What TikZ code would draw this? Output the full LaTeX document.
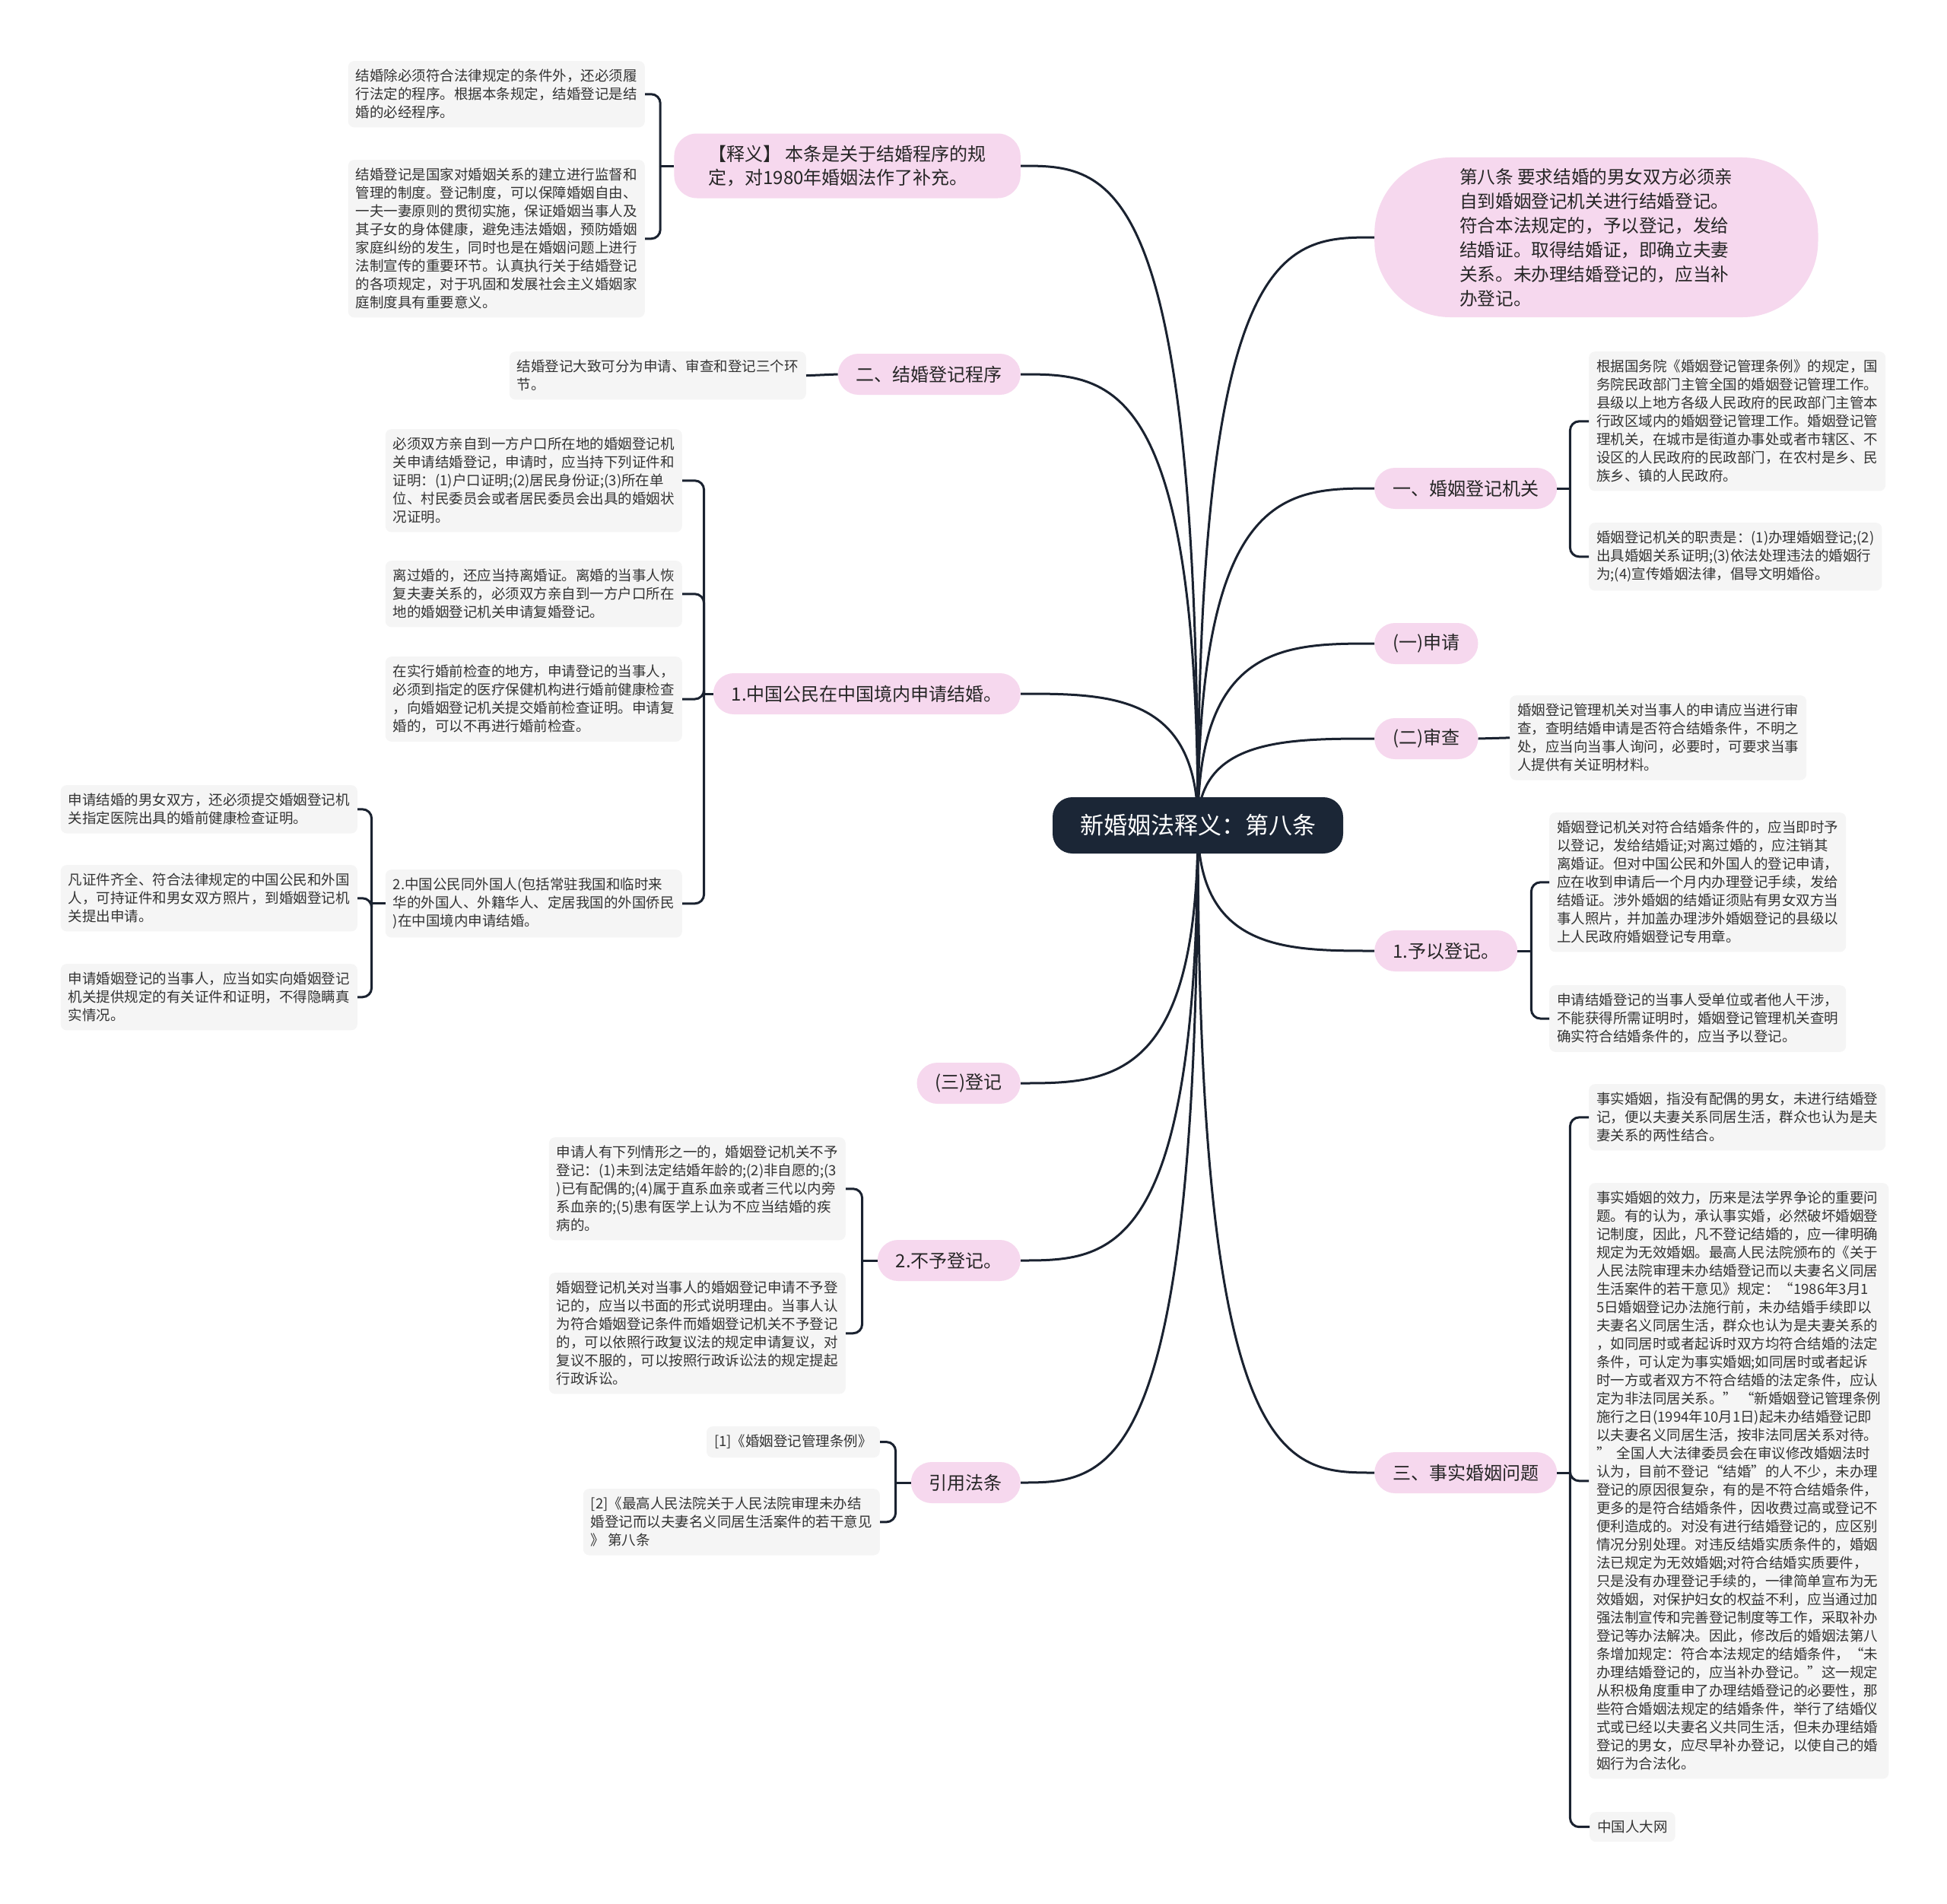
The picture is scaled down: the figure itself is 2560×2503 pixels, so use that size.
\documentclass[tikz,border=0pt]{standalone}
\usepackage{fontspec}
\newfontfamily\cjk{Noto Sans CJK SC}
\usetikzlibrary{calc}
\definecolor{pinkfill}{HTML}{F6D8EE}
\definecolor{leaffill}{HTML}{F5F5F5}
\definecolor{linec}{HTML}{1A2230}
\definecolor{navy}{HTML}{1B2636}
\definecolor{leaftext}{HTML}{333333}
\tikzset{
 leaf/.style={fill=leaffill, rounded corners=8pt, inner xsep=10pt, inner ysep=11pt, align=left, text=leaftext, font=\cjk\fontsize{18.5}{24}\selectfont},
 branch/.style={fill=pinkfill, rounded corners=27pt, inner xsep=24pt, inner ysep=0pt, minimum height=54pt, text=black!85, font=\cjk\fontsize{24}{31}\selectfont, align=left},
 conn/.style={draw=linec, line width=3pt},
 bracket/.style={conn, rounded corners=12pt},
}
\newcommand\rootcurve[1]{\draw[conn] (c) .. controls (c |- #1) and ($(c |- #1)!0.5!(#1)$) .. (#1);}
\begin{document}
\begin{tikzpicture}[x=1pt,y=-1pt]
\path[use as bounding box, fill=white] (0,0) rectangle (2560,2503);
\coordinate (c) at (1575,1085);

% left branches
\node[branch, anchor=east, inner xsep=45pt, minimum height=85pt, rounded corners=30pt] (b1) at (1342,218) {【释义】 本条是关于结婚程序的规\\定，对1980年婚姻法作了补充。};
\node[branch, anchor=east] (b2) at (1342,492) {二、结婚登记程序};
\node[branch, anchor=east] (b3) at (1342,912) {1.中国公民在中国境内申请结婚。};
\node[branch, anchor=east] (b4) at (1342,1424) {(三)登记};
\node[branch, anchor=east] (b5) at (1342,1657) {2.不予登记。};
\node[branch, anchor=east] (b6) at (1342,1949) {引用法条};

% right branches
\node[branch, anchor=west, inner xsep=112pt, inner ysep=14pt, rounded corners=100pt, font=\cjk\fontsize{23.6}{32}\selectfont] (r0) at (1807,312) {第八条 要求结婚的男女双方必须亲\\自到婚姻登记机关进行结婚登记。\\符合本法规定的，予以登记，发给\\结婚证。取得结婚证，即确立夫妻\\关系。未办理结婚登记的，应当补\\办登记。};
\node[branch, anchor=west] (r1) at (1807,642) {一、婚姻登记机关};
\node[branch, anchor=west] (r2) at (1807,846) {(一)申请};
\node[branch, anchor=west] (r3) at (1807,971) {(二)审查};
\node[branch, anchor=west] (r4) at (1807,1250) {1.予以登记。};
\node[branch, anchor=west] (r5) at (1807,1936) {三、事实婚姻问题};

% left leaves
\node[leaf, anchor=north east] (l1a) at (848,80) {结婚除必须符合法律规定的条件外，还必须履\\行法定的程序。根据本条规定，结婚登记是结\\婚的必经程序。};
\node[leaf, anchor=north east] (l1b) at (848,210) {结婚登记是国家对婚姻关系的建立进行监督和\\管理的制度。登记制度，可以保障婚姻自由、\\一夫一妻原则的贯彻实施，保证婚姻当事人及\\其子女的身体健康，避免违法婚姻，预防婚姻\\家庭纠纷的发生，同时也是在婚姻问题上进行\\法制宣传的重要环节。认真执行关于结婚登记\\的各项规定，对于巩固和发展社会主义婚姻家\\庭制度具有重要意义。};
\node[leaf, anchor=north east] (l2) at (1060,462) {结婚登记大致可分为申请、审查和登记三个环\\节。};
\node[leaf, anchor=north east] (l3a) at (897,564) {必须双方亲自到一方户口所在地的婚姻登记机\\关申请结婚登记，申请时，应当持下列证件和\\证明：(1)户口证明;(2)居民身份证;(3)所在单\\位、村民委员会或者居民委员会出具的婚姻状\\况证明。};
\node[leaf, anchor=north east] (l3b) at (897,737) {离过婚的，还应当持离婚证。离婚的当事人恢\\复夫妻关系的，必须双方亲自到一方户口所在\\地的婚姻登记机关申请复婚登记。};
\node[leaf, anchor=north east] (l3c) at (897,863) {在实行婚前检查的地方，申请登记的当事人，\\必须到指定的医疗保健机构进行婚前健康检查\\，向婚姻登记机关提交婚前检查证明。申请复\\婚的，可以不再进行婚前检查。};
\node[leaf, anchor=north east] (l3d) at (897,1143) {2.中国公民同外国人(包括常驻我国和临时来\\华的外国人、外籍华人、定居我国的外国侨民\\)在中国境内申请结婚。};
\node[leaf, anchor=north east] (l4a) at (470,1032) {申请结婚的男女双方，还必须提交婚姻登记机\\关指定医院出具的婚前健康检查证明。};
\node[leaf, anchor=north east] (l4b) at (470,1137) {凡证件齐全、符合法律规定的中国公民和外国\\人，可持证件和男女双方照片，到婚姻登记机\\关提出申请。};
\node[leaf, anchor=north east] (l4c) at (470,1267) {申请婚姻登记的当事人，应当如实向婚姻登记\\机关提供规定的有关证件和证明，不得隐瞒真\\实情况。};
\node[leaf, anchor=north east] (n1) at (1112,1495) {申请人有下列情形之一的，婚姻登记机关不予\\登记：(1)未到法定结婚年龄的;(2)非自愿的;(3\\)已有配偶的;(4)属于直系血亲或者三代以内旁\\系血亲的;(5)患有医学上认为不应当结婚的疾\\病的。};
\node[leaf, anchor=north east] (n2) at (1112,1673) {婚姻登记机关对当事人的婚姻登记申请不予登\\记的，应当以书面的形式说明理由。当事人认\\为符合婚姻登记条件而婚姻登记机关不予登记\\的，可以依照行政复议法的规定申请复议，对\\复议不服的，可以按照行政诉讼法的规定提起\\行政诉讼。};
\node[leaf, anchor=north east] (c1) at (1157,1875) {[1]《婚姻登记管理条例》};
\node[leaf, anchor=north east] (c2) at (1157,1957) {[2]《最高人民法院关于人民法院审理未办结\\婚登记而以夫妻名义同居生活案件的若干意见\\》 第八条};

% right leaves
\node[leaf, anchor=north west] (r1a) at (2089,462) {根据国务院《婚姻登记管理条例》的规定，国\\务院民政部门主管全国的婚姻登记管理工作。\\县级以上地方各级人民政府的民政部门主管本\\行政区域内的婚姻登记管理工作。婚姻登记管\\理机关，在城市是街道办事处或者市辖区、不\\设区的人民政府的民政部门，在农村是乡、民\\族乡、镇的人民政府。};
\node[leaf, anchor=north west] (r1b) at (2089,687) {婚姻登记机关的职责是：(1)办理婚姻登记;(2)\\出具婚姻关系证明;(3)依法处理违法的婚姻行\\为;(4)宣传婚姻法律，倡导文明婚俗。};
\node[leaf, anchor=north west] (r3a) at (1985,914) {婚姻登记管理机关对当事人的申请应当进行审\\查，查明结婚申请是否符合结婚条件，不明之\\处，应当向当事人询问，必要时，可要求当事\\人提供有关证明材料。};
\node[leaf, anchor=north west] (r4a) at (2037,1068) {婚姻登记机关对符合结婚条件的，应当即时予\\以登记，发给结婚证;对离过婚的，应注销其\\离婚证。但对中国公民和外国人的登记申请，\\应在收到申请后一个月内办理登记手续，发给\\结婚证。涉外婚姻的结婚证须贴有男女双方当\\事人照片，并加盖办理涉外婚姻登记的县级以\\上人民政府婚姻登记专用章。};
\node[leaf, anchor=north west] (r4b) at (2037,1295) {申请结婚登记的当事人受单位或者他人干涉，\\不能获得所需证明时，婚姻登记管理机关查明\\确实符合结婚条件的，应当予以登记。};
\node[leaf, anchor=north west] (r5a) at (2089,1425) {事实婚姻，指没有配偶的男女，未进行结婚登\\记，便以夫妻关系同居生活，群众也认为是夫\\妻关系的两性结合。};
\node[leaf, anchor=north west] (r5b) at (2089,1555) {事实婚姻的效力，历来是法学界争论的重要问\\题。有的认为，承认事实婚，必然破坏婚姻登\\记制度，因此，凡不登记结婚的，应一律明确\\规定为无效婚姻。最高人民法院颁布的《关于\\人民法院审理未办结婚登记而以夫妻名义同居\\生活案件的若干意见》规定：“1986年3月1\\5日婚姻登记办法施行前，未办结婚手续即以\\夫妻名义同居生活，群众也认为是夫妻关系的\\，如同居时或者起诉时双方均符合结婚的法定\\条件，可认定为事实婚姻;如同居时或者起诉\\时一方或者双方不符合结婚的法定条件，应认\\定为非法同居关系。” “新婚姻登记管理条例\\施行之日(1994年10月1日)起未办结婚登记即\\以夫妻名义同居生活，按非法同居关系对待。\\”\ \ 全国人大法律委员会在审议修改婚姻法时\\认为，目前不登记“结婚”的人不少，未办理\\登记的原因很复杂，有的是不符合结婚条件，\\更多的是符合结婚条件，因收费过高或登记不\\便利造成的。对没有进行结婚登记的，应区别\\情况分别处理。对违反结婚实质条件的，婚姻\\法已规定为无效婚姻;对符合结婚实质要件，\\只是没有办理登记手续的，一律简单宣布为无\\效婚姻，对保护妇女的权益不利，应当通过加\\强法制宣传和完善登记制度等工作，采取补办\\登记等办法解决。因此，修改后的婚姻法第八\\条增加规定：符合本法规定的结婚条件，“未\\办理结婚登记的，应当补办登记。”这一规定\\从积极角度重申了办理结婚登记的必要性，那\\些符合婚姻法规定的结婚条件，举行了结婚仪\\式或已经以夫妻名义共同生活，但未办理结婚\\登记的男女，应尽早补办登记，以使自己的婚\\姻行为合法化。};
\node[leaf, anchor=north west] (r5c) at (2090,2382) {中国人大网};

% root curves
\rootcurve{b1.east}
\rootcurve{b2.east}
\rootcurve{b3.east}
\rootcurve{b4.east}
\rootcurve{b5.east}
\rootcurve{b6.east}
\rootcurve{r0.west}
\rootcurve{r1.west}
\rootcurve{r2.west}
\rootcurve{r3.west}
\rootcurve{r4.west}
\rootcurve{r5.west}

% branch to leaves
\coordinate (j1) at ($(b1.west)+(-18,0)$);
\draw[conn] (b1.west) -- (j1);
\draw[bracket] (j1) |- (l1a.east);
\draw[bracket] (j1) |- (l1b.east);
\draw[conn] (b2.west) -- (l2.east);
\coordinate (j3) at ($(b3.west)+(-12,0)$);
\draw[conn] (b3.west) -- (j3);
\draw[bracket] (j3) |- (l3a.east);
\draw[bracket] (j3) |- (l3b.east);
\draw[bracket] (j3) |- (l3c.east);
\draw[bracket] (j3) |- (l3d.east);
\coordinate (j4) at ($(l3d.west)+(-18,0)$);
\draw[conn] (l3d.west) -- (j4);
\draw[bracket] (j4) |- (l4a.east);
\draw[bracket] (j4) |- (l4b.east);
\draw[bracket] (j4) |- (l4c.east);
\coordinate (j5) at ($(b5.west)+(-20,0)$);
\draw[conn] (b5.west) -- (j5);
\draw[bracket] (j5) |- (n1.east);
\draw[bracket] (j5) |- (n2.east);
\coordinate (j6) at ($(b6.west)+(-20,0)$);
\draw[conn] (b6.west) -- (j6);
\draw[bracket] (j6) |- (c1.east);
\draw[bracket] (j6) |- (c2.east);
\coordinate (k1) at ($(r1.east)+(17,0)$);
\draw[conn] (r1.east) -- (k1);
\draw[bracket] (k1) |- (r1a.west);
\draw[bracket] (k1) |- (r1b.west);
\draw[conn] (r3.east) -- (r3a.west);
\coordinate (k4) at ($(r4.east)+(18,0)$);
\draw[conn] (r4.east) -- (k4);
\draw[bracket] (k4) |- (r4a.west);
\draw[bracket] (k4) |- (r4b.west);
\coordinate (k5) at ($(r5.east)+(17,0)$);
\draw[conn] (r5.east) -- (k5);
\draw[bracket] (k5) |- (r5a.west);
\draw[bracket] (k5) |- (r5b.west);
\draw[bracket] (k5) |- (r5c.west);

% root
\node[fill=navy, text=white, rounded corners=26pt, font=\cjk\fontsize{31}{36}\selectfont, minimum height=74pt, inner xsep=36pt] (root) at (c) {新婚姻法释义：第八条};
\end{tikzpicture}
\end{document}
